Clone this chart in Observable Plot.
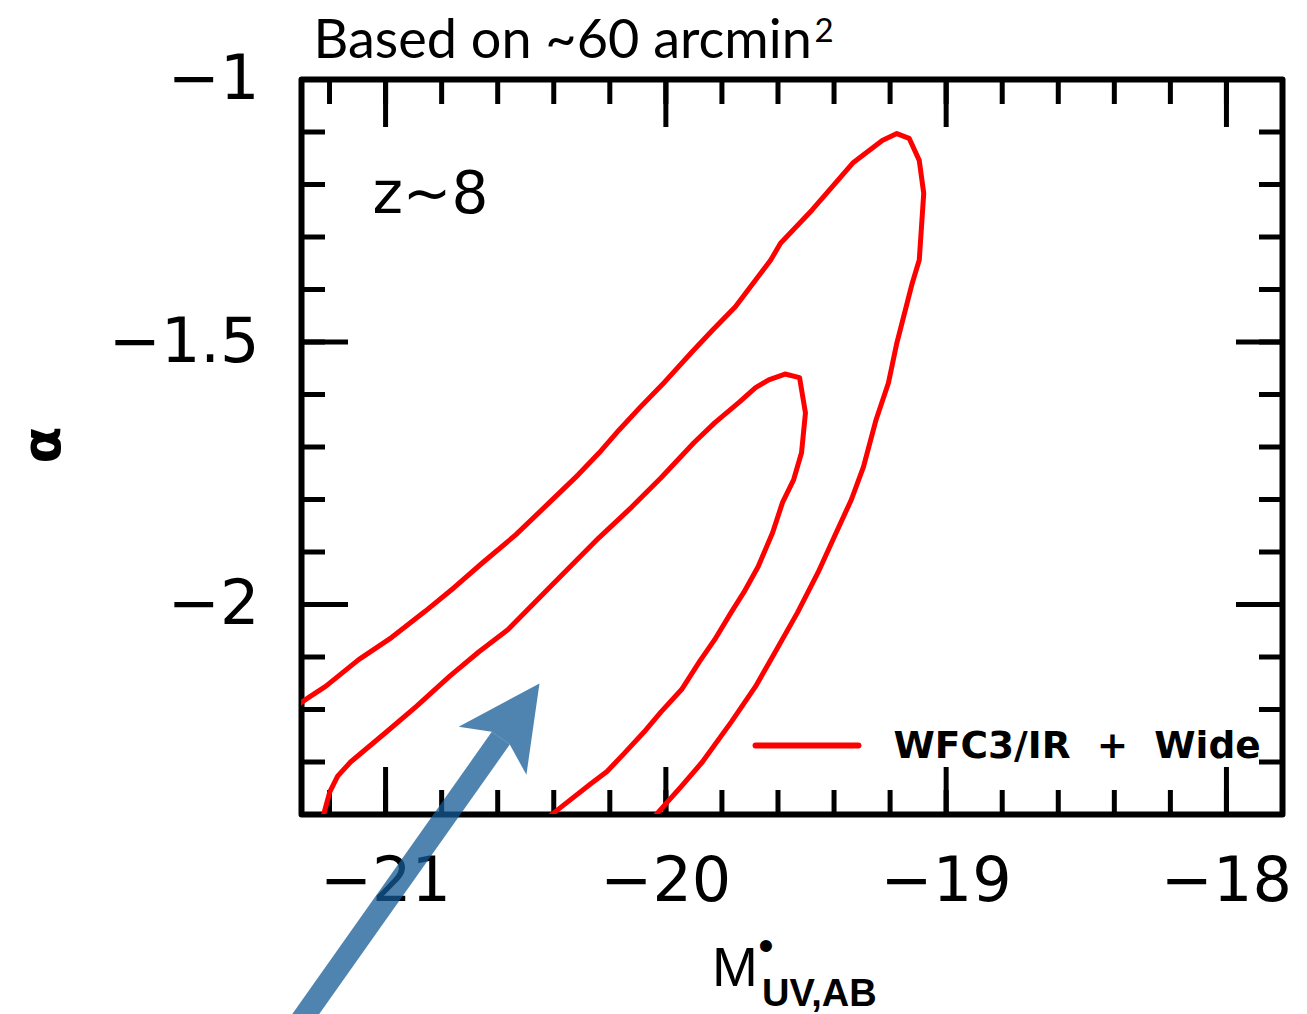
<!DOCTYPE html>
<html>
<head>
<meta charset="utf-8">
<script src="https://cdn.jsdelivr.net/npm/d3@7"></script>
<script src="https://cdn.jsdelivr.net/npm/@observablehq/plot@0.6"></script>
<style>
  html, body { margin: 0; padding: 0; background: white; }
  #chart { width: 1307px; height: 1014px; overflow: hidden; }
</style>
</head>
<body>
<div id="chart"></div>
<script>
// ---- data ----
const titleText = "Based on ~60 arcmin";
const titleSup = "2";
const redshiftLabel = "z~8";
const legendLabel = "WFC3/IR\u00a0 +\u00a0 Wide";

// outer contour (M*, alpha)
const outerX = [-21.338, -21.274, -21.214, -21.096, -20.979, -20.859, -20.756, -20.653, -20.535, -20.416, -20.313, -20.238, -20.166, -20.093, -20.004, -19.907, -19.833, -19.752, -19.626, -19.591, -19.479, -19.427, -19.331, -19.228, -19.176, -19.132, -19.096, -19.080, -19.096, -19.121, -19.176, -19.206, -19.250, -19.295, -19.338, -19.399, -19.457, -19.530, -19.619, -19.680, -19.767, -19.870, -19.944, -20.011, -20.080];
const outerY = [-2.200, -2.177, -2.156, -2.105, -2.063, -2.013, -1.968, -1.920, -1.867, -1.806, -1.753, -1.711, -1.667, -1.625, -1.576, -1.519, -1.477, -1.433, -1.344, -1.312, -1.249, -1.217, -1.158, -1.116, -1.103, -1.112, -1.154, -1.217, -1.344, -1.388, -1.502, -1.578, -1.648, -1.738, -1.800, -1.871, -1.939, -2.015, -2.099, -2.156, -2.224, -2.300, -2.346, -2.386, -2.428];

// inner contour (M*, alpha)
const innerX = [-21.235, -21.214, -21.199, -21.171, -21.125, -20.993, -20.890, -20.772, -20.669, -20.564, -20.416, -20.239, -20.121, -20.018, -19.900, -19.826, -19.737, -19.680, -19.633, -19.575, -19.523, -19.502, -19.516, -19.544, -19.584, -19.619, -19.671, -19.722, -19.767, -19.826, -19.879, -19.944, -20.018, -20.078, -20.151, -20.210, -20.269, -20.374, -20.473];
const innerY = [-2.428, -2.386, -2.357, -2.327, -2.300, -2.241, -2.194, -2.137, -2.091, -2.048, -1.968, -1.873, -1.814, -1.759, -1.692, -1.654, -1.614, -1.587, -1.572, -1.561, -1.568, -1.635, -1.711, -1.762, -1.806, -1.863, -1.928, -1.977, -2.015, -2.067, -2.108, -2.162, -2.205, -2.243, -2.285, -2.318, -2.342, -2.386, -2.428];

// ticks
const majorX = [-21, -20, -19, -18];
const minorX = [-21.2, -21.0, -20.8, -20.6, -20.4, -20.2, -20.0, -19.8, -19.6, -19.4, -19.2, -19.0, -18.8, -18.6, -18.4, -18.2, -18.0];
const labelY = [-2, -1.5, -1];
const majorY = [-2, -1.5];
const minorY = [-2.3, -2.2, -2.1, -2.0, -1.9, -1.8, -1.7, -1.6, -1.5, -1.4, -1.3, -1.2, -1.1];

// annotations (data coordinates)
const zLabelPos = [{x: -21.047, y: -1.255}];
const legendLineX = [-19.680, -19.313];
const legendLineY = [-2.2686, -2.2686];
const legendTextPos = [{x: -19.188, y: -2.2686}];
const arrowFrom = {x: -21.351, y: -2.830};
const arrowTo = {x: -20.589, y: -2.2547};

// ---- tables built from the arrays ----
const contours = [
  ...outerX.map((x, i) => ({x, y: outerY[i], level: "outer"})),
  ...innerX.map((x, i) => ({x, y: innerY[i], level: "inner"}))
];
const legendLine = legendLineX.map((x, i) => ({x, y: legendLineY[i]}));

const fmt = d => "\u2212" + Math.abs(d);
const noLabel = () => "";
const TICK = 5;

const plot = Plot.plot({
  width: 1307,
  height: 1014,
  marginLeft: 301,
  marginRight: 25,
  marginTop: 79,
  marginBottom: 200,
  x: {domain: [-21.3, -17.8]},
  y: {domain: [-2.4, -1.0]},
  style: {fontFamily: "DejaVu Sans", background: "white", color: "black"},
  marks: [
    // inward ticks on all four sides
    Plot.axisX({anchor: "bottom", ticks: minorX, tickSize: -24, tickFormat: noLabel, label: null, strokeWidth: TICK}),
    Plot.axisX({anchor: "top", ticks: minorX, tickSize: -24, tickFormat: noLabel, label: null, strokeWidth: TICK}),
    Plot.axisX({anchor: "bottom", ticks: majorX, tickSize: -47, tickFormat: noLabel, label: null, strokeWidth: TICK}),
    Plot.axisX({anchor: "top", ticks: majorX, tickSize: -47, tickFormat: noLabel, label: null, strokeWidth: TICK}),
    Plot.axisY({anchor: "left", ticks: minorY, tickSize: -24, tickFormat: noLabel, label: null, strokeWidth: TICK}),
    Plot.axisY({anchor: "right", ticks: minorY, tickSize: -24, tickFormat: noLabel, label: null, strokeWidth: TICK}),
    Plot.axisY({anchor: "left", ticks: majorY, tickSize: -47, tickFormat: noLabel, label: null, strokeWidth: TICK}),
    Plot.axisY({anchor: "right", ticks: majorY, tickSize: -47, tickFormat: noLabel, label: null, strokeWidth: TICK}),
    // tick labels
    Plot.axisX({anchor: "bottom", ticks: majorX, tickSize: 0, tickPadding: 42, tickFormat: fmt, label: null, fontSize: 62, fontFamily: "DejaVu Sans"}),
    Plot.axisY({anchor: "left", ticks: labelY, tickSize: 0, tickPadding: 42, tickFormat: fmt, label: null, fontSize: 62, fontFamily: "DejaVu Sans"}),
    Plot.frame({stroke: "black", strokeWidth: 6, strokeLinejoin: "round"}),
    // contours
    Plot.line(contours, {x: "x", y: "y", z: "level", stroke: "#ff0000", strokeWidth: 5, clip: true, strokeLinejoin: "round"}),
    // legend
    Plot.line(legendLine, {x: "x", y: "y", stroke: "#ff0000", strokeWidth: 6}),
    Plot.text(legendTextPos, {x: "x", y: "y", text: () => legendLabel, textAnchor: "start", lineAnchor: "middle", fontSize: 37.5, fontWeight: "bold", fontFamily: "DejaVu Sans"}),
    // z~8 label
    Plot.text(zLabelPos, {x: "x", y: "y", text: () => redshiftLabel, textAnchor: "start", lineAnchor: "bottom", fontSize: 58, fontFamily: "DejaVu Sans"}),
    // title
    Plot.text([titleText], {frameAnchor: "top-left", text: d => d, dx: 12, dy: -22, textAnchor: "start", lineAnchor: "bottom", fontSize: 54, fontFamily: "Lato"}),
    Plot.text([titleSup], {frameAnchor: "top-left", text: d => d, dx: 513, dy: -38, textAnchor: "start", lineAnchor: "bottom", fontSize: 33, fontFamily: "Lato"}),
    // axis labels
    Plot.text(["M"], {frameAnchor: "bottom", text: d => d, dx: -80, dy: 171, textAnchor: "start", lineAnchor: "bottom", fontSize: 55, fontFamily: "Liberation Sans"}),
    Plot.text(["\u2022"], {frameAnchor: "bottom", text: d => d, dx: -26, dy: 146, textAnchor: "middle", lineAnchor: "bottom", fontSize: 44, fontFamily: "Liberation Sans"}),
    Plot.text(["UV,AB"], {frameAnchor: "bottom", text: d => d, dx: -30, dy: 191, textAnchor: "start", lineAnchor: "bottom", fontSize: 38, fontWeight: "bold", fontFamily: "Liberation Sans"}),
    Plot.text(["\u03b1"], {frameAnchor: "left", text: d => d, dx: -259, dy: -2, rotate: -90, textAnchor: "middle", lineAnchor: "middle", fontSize: 54, fontWeight: "bold", fontFamily: "DejaVu Sans"}),
    // annotation arrow
    Plot.link([{x1: arrowFrom.x, y1: arrowFrom.y, x2: arrowTo.x, y2: arrowTo.y}], {x1: "x1", y1: "y1", x2: "x2", y2: "y2", stroke: "#145a96", strokeOpacity: 0.75, strokeWidth: 22, strokeLinecap: "butt"})
  ]
});

// filled arrow head attached to the link as an SVG marker
const svg = d3.select(plot);
const defs = svg.insert("defs", ":first-child");
defs.append("marker")
  .attr("id", "arrowhead")
  .attr("markerUnits", "userSpaceOnUse")
  .attr("orient", "auto")
  .attr("viewBox", "-20 -50 100 100")
  .attr("markerWidth", 100)
  .attr("markerHeight", 100)
  .attr("refX", 0)
  .attr("refY", 0)
  .attr("overflow", "visible")
  .append("path")
  .attr("d", "M67,0L-15,-41L0,-11L0,11L-15,42Z")
  .attr("fill", "#145a96")
  .attr("fill-opacity", 0.75);
svg.selectAll('g[aria-label="link"] path').attr("marker-end", "url(#arrowhead)");

document.getElementById("chart").appendChild(plot);
</script>
</body>
</html>
